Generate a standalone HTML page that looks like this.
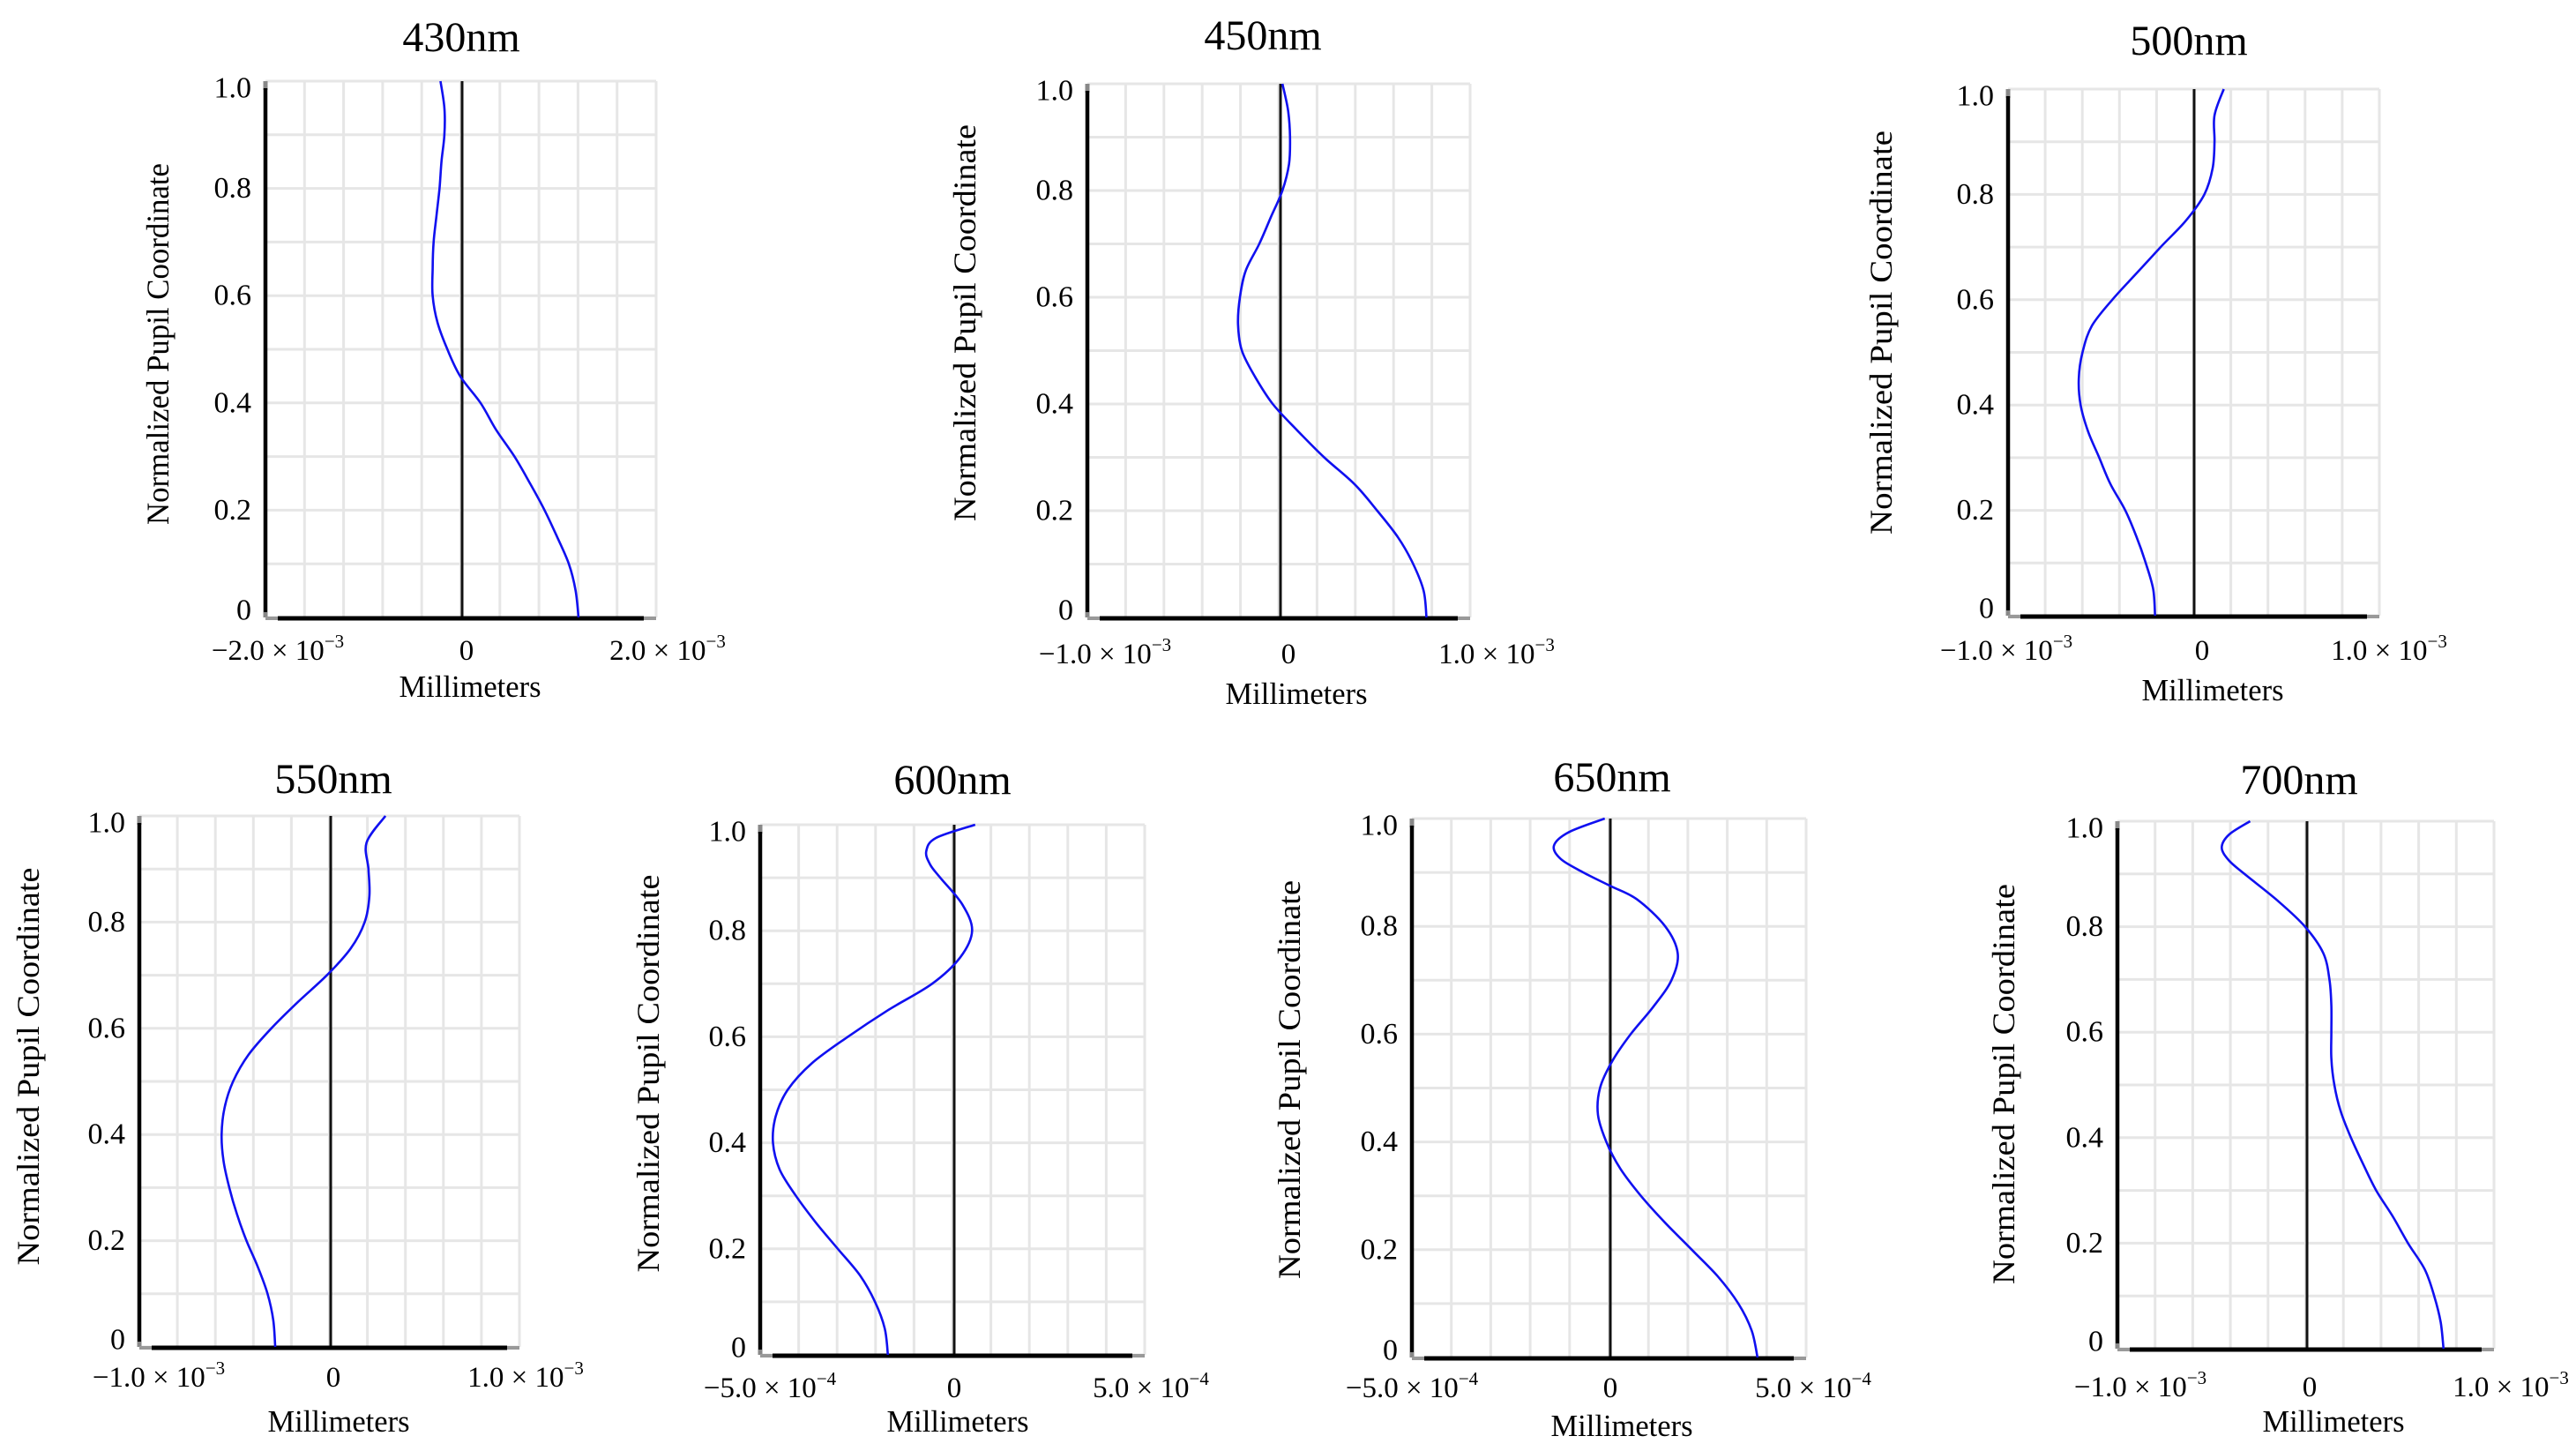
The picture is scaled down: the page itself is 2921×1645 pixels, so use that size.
<!DOCTYPE html>
<html><head><meta charset="utf-8">
<style>
html,body{margin:0;padding:0;background:#fff;}
svg{display:block;}
text{font-family:"Liberation Serif","Times New Roman",serif;fill:#000;}
</style></head>
<body>
<svg id="fig" width="2921" height="1645" viewBox="0 0 2921 1645" xmlns="http://www.w3.org/2000/svg"></svg>
<script>
// ---- data (x values in units of `unit` mm) ----
const yStd = [1,0.95,0.9,0.85,0.8,0.75,0.7,0.65,0.6,0.55,0.5,0.45,0.4,0.35,0.3,0.25,0.2,0.15,0.1,0.05,0];
const ys430 = yStd;
const xs430 = [-0.22,-0.18,-0.18,-0.21,-0.23,-0.26,-0.29,-0.30,-0.30,-0.25,-0.15,-0.02,0.19,0.35,0.54,0.70,0.85,0.98,1.10,1.17,1.20];
const ys450 = yStd;
const xs450 = [0.01,0.04,0.05,0.045,0.01,-0.05,-0.11,-0.18,-0.21,-0.22,-0.20,-0.13,-0.04,0.09,0.23,0.39,0.51,0.62,0.70,0.755,0.77];
const ys500 = yStd;
const xs500 = [0.16,0.11,0.11,0.10,0.055,-0.045,-0.18,-0.31,-0.44,-0.55,-0.60,-0.62,-0.61,-0.57,-0.51,-0.45,-0.37,-0.31,-0.26,-0.22,-0.21];
const ys550 = yStd;
const xs550 = [0.29,0.19,0.20,0.205,0.18,0.105,-0.02,-0.17,-0.31,-0.43,-0.51,-0.555,-0.57,-0.56,-0.53,-0.49,-0.44,-0.38,-0.33,-0.30,-0.29];
const ys600 = [1,0.975,0.95,0.925,0.9,0.85,0.8,0.75,0.7,0.65,0.6,0.55,0.5,0.45,0.4,0.35,0.3,0.25,0.2,0.15,0.1,0.05,0];
const xs600 = [0.55,-0.47,-0.72,-0.62,-0.36,0.21,0.47,0.16,-0.57,-1.71,-2.74,-3.67,-4.29,-4.60,-4.67,-4.50,-4.08,-3.57,-3.0,-2.43,-2.04,-1.79,-1.71];
const ys650 = [1,0.975,0.95,0.925,0.9,0.875,0.85,0.8,0.75,0.7,0.65,0.6,0.55,0.5,0.45,0.4,0.35,0.3,0.25,0.2,0.15,0.1,0.05,0];
const xs650 = [-0.14,-1.04,-1.42,-1.25,-0.68,0,0.68,1.40,1.72,1.56,1.09,0.52,0.05,-0.26,-0.31,-0.10,0.26,0.78,1.40,2.08,2.75,3.27,3.61,3.76];
const ys700 = [1,0.975,0.95,0.925,0.9,0.85,0.8,0.75,0.7,0.65,0.6,0.55,0.5,0.45,0.4,0.35,0.3,0.25,0.2,0.15,0.1,0.05,0];
const xs700 = [-0.30,-0.41,-0.45,-0.41,-0.33,-0.157,-0.01,0.087,0.12,0.13,0.13,0.13,0.146,0.18,0.235,0.30,0.37,0.46,0.54,0.63,0.68,0.715,0.73];
const titles = ["430nm","450nm","500nm","550nm","600nm","650nm","700nm"];
const xLimits = [2.0,1.0,1.0,1.0,5.0,5.0,1.0];
const xExps = ["−3","−3","−3","−3","−4","−4","−3"];
const yTicks = [0,0.2,0.4,0.6,0.8,1.0];
const yTickLabels = ["0","0.2","0.4","0.6","0.8","1.0"];

// ---- layout ----
const panels = [
 {ys:ys430,xs:xs430,L:301,R:744,T:92,B:700,Z:524,tx:523,tb:58,yx:179,yc:390,yl:410,mx:533,mb:790,lx:315,rx:757,zx:529,xb:748},
 {ys:ys450,xs:xs450,L:1233,R:1667,T:95,B:700,Z:1452,tx:1432,tb:56,yx:1094,yc:366,yl:450,mx:1470,mb:798,lx:1253,rx:1697,zx:1461,xb:752},
 {ys:ys500,xs:xs500,L:2277,R:2698,T:101,B:698,Z:2488,tx:2482,tb:62,yx:2133,yc:377,yl:458,mx:2509,mb:794,lx:2275,rx:2709,zx:2497,xb:748},
 {ys:ys550,xs:xs550,L:158,R:589,T:925,B:1527,Z:375,tx:378,tb:899,yx:32,yc:1209,yl:451,mx:384,mb:1623,lx:180,rx:596,zx:378,xb:1572},
 {ys:ys600,xs:xs600,L:862,R:1298,T:935,B:1536,Z:1082,tx:1080,tb:900,yx:735,yc:1217,yl:451,mx:1086,mb:1623,lx:873,rx:1305,zx:1082,xb:1584},
 {ys:ys650,xs:xs650,L:1601,R:2048,T:928,B:1539,Z:1826,tx:1828,tb:897,yx:1462,yc:1224,yl:452,mx:1839,mb:1628,lx:1601,rx:2056,zx:1826,xb:1584},
 {ys:ys700,xs:xs700,L:2401,R:2828,T:931,B:1529,Z:2616,tx:2607,tb:900,yx:2272,yc:1229,yl:454,mx:2646,mb:1623,lx:2427,rx:2847,zx:2619,xb:1583}
];
const NS = "http://www.w3.org/2000/svg";
const svg = document.getElementById('fig');
function mk(tag, attrs, parent){
  const e = document.createElementNS(NS, tag);
  for (const k in attrs) e.setAttribute(k, attrs[k]);
  (parent||svg).appendChild(e);
  return e;
}
panels.forEach((p, i) => {
  const g = mk('g', {});
  
  
  const lim = xLimits[i];
  const xs = v => v < 0 ? p.Z + (v / lim) * (p.Z - p.L) : p.Z + (v / lim) * (p.R - p.Z);
  const ysc = v => p.B - v * (p.B - p.T);
  const grid = mk('g', {stroke:'#e6e6e6','stroke-width':3}, g);
  
  
  for (let k = 0; k <= 10; k++) {
    const gx = p.L + (p.R - p.L) * k / 10;
    mk('line', {x1:gx, y1:p.T, x2:gx, y2:p.B}, grid);
    const gy = p.T + (p.B - p.T) * k / 10;
    mk('line', {x1:p.L, y1:gy, x2:p.R, y2:gy}, grid);
  }
  const zl = mk('line', {x1:xs(0), y1:p.T, x2:xs(0), y2:p.B, stroke:'#111','stroke-width':3}, g);
  
  
  mk('line', {x1:p.L, y1:p.T, x2:p.L, y2:p.T+10, stroke:'#888','stroke-width':5}, g);
  mk('line', {x1:p.L, y1:p.B-6, x2:p.L, y2:p.B, stroke:'#888','stroke-width':5}, g);
  const ya = mk('line', {x1:p.L, y1:p.T+8, x2:p.L, y2:p.B-6, stroke:'#000','stroke-width':4.5}, g);
  
  
  mk('line', {x1:p.L, y1:p.B+1, x2:p.R, y2:p.B+1, stroke:'#999','stroke-width':4}, g);
  const xa = mk('line', {x1:p.L+14, y1:p.B+1, x2:p.R-14, y2:p.B+1, stroke:'#000','stroke-width':5}, g);
  
  
  yTicks.forEach((t, j) => {
    let yy = ysc(t);
    if (t === 1) yy += 8;
    if (t === 0) yy -= 8;
    const tl = mk('text', {x:p.L-16, y:yy, 'font-size':34, 'text-anchor':'end', 'dominant-baseline':'central'}, g);
    tl.textContent = yTickLabels[j];
    
    
  });
  const mkX = (cx, txt, name) => {
    const t = mk('text', {x:cx, y:p.xb, 'font-size':33, 'text-anchor':'middle'}, g);
    
    
    if (txt === '0') { t.textContent = '0'; return; }
    const a = mk('tspan', {}, t); a.textContent = txt + ' × 10';
    const b = mk('tspan', {'font-size':21, dy:-14}, t); b.textContent = xExps[i];
  };
  mkX(p.lx, '−' + lim.toFixed(1), 'x-tick-min');
  mkX(p.zx, '0', 'x-tick-zero');
  mkX(p.rx, lim.toFixed(1), 'x-tick-max');
  const tt = mk('text', {x:p.tx, y:p.tb, 'font-size':48, 'text-anchor':'middle'}, g);
  tt.textContent = titles[i];
  
  
  const yt = mk('text', {x:0, y:0, 'font-size':36, 'text-anchor':'middle', 'dominant-baseline':'central',
    transform:'translate(' + p.yx + ',' + p.yc + ') rotate(-90)', textLength:p.yl, lengthAdjust:'spacingAndGlyphs'}, g);
  yt.textContent = 'Normalized Pupil Coordinate';
  
  
  const xt = mk('text', {x:p.mx, y:p.mb, 'font-size':35, 'text-anchor':'middle', textLength:161, lengthAdjust:'spacingAndGlyphs'}, g);
  xt.textContent = 'Millimeters';
  
  
  const pts = p.xs.map((v, k) => [xs(v), ysc(p.ys[k])]);
  let d = 'M' + pts[0][0].toFixed(1) + ',' + pts[0][1].toFixed(1);
  for (let k = 0; k < pts.length - 1; k++) {
    const p0 = pts[Math.max(k-1,0)], p1 = pts[k], p2 = pts[k+1], p3 = pts[Math.min(k+2, pts.length-1)];
    const c1 = [p1[0] + (p2[0]-p0[0])/6, p1[1] + (p2[1]-p0[1])/6];
    const c2 = [p2[0] - (p3[0]-p1[0])/6, p2[1] - (p3[1]-p1[1])/6];
    d += 'C' + c1[0].toFixed(1) + ',' + c1[1].toFixed(1) + ' ' + c2[0].toFixed(1) + ',' + c2[1].toFixed(1) + ' ' + p2[0].toFixed(1) + ',' + p2[1].toFixed(1);
  }
  const cv = mk('path', {d:d, fill:'none', stroke:'#1010f0', 'stroke-width':2.6}, g);
  
  
});
</script>
</body></html>
